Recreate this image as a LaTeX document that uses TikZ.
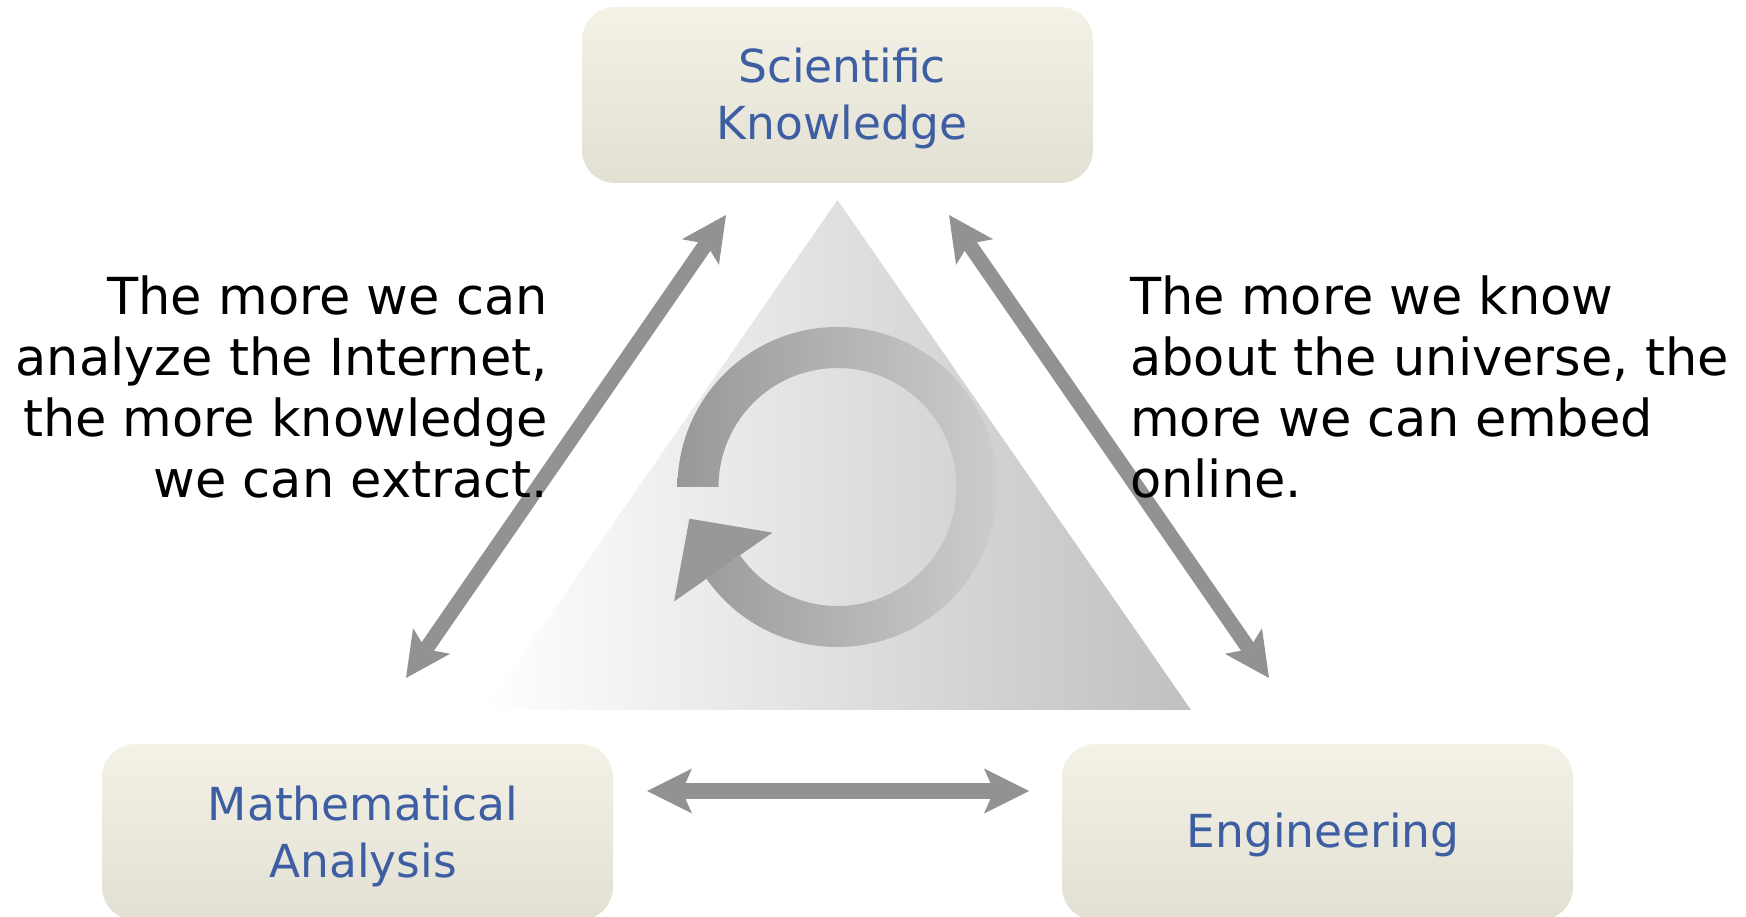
\documentclass[tikz,border=0pt]{standalone}
\usepackage{fontspec}
\setmainfont{DejaVu Sans}
\usetikzlibrary{arrows.meta}
\definecolor{boxtop}{RGB}{244,242,230}
\definecolor{boxbot}{RGB}{226,223,211}
\definecolor{labelblue}{RGB}{61,94,163}
\definecolor{arrowgray}{RGB}{146,146,146}
\definecolor{ringdark}{RGB}{152,152,152}
\definecolor{ringlight}{RGB}{205,205,205}
\definecolor{triright}{RGB}{192,192,192}
\tikzset{bigtip/.tip={Stealth[length=45pt,width=45pt,inset=10pt,line width=0pt]}}
\begin{document}
\begin{tikzpicture}[x=1pt,y=1pt,
  box/.style={rectangle, rounded corners=33pt, minimum width=511pt, minimum height=176pt,
    top color=boxtop, bottom color=boxbot, draw=none, inner sep=0pt},
  bluetext/.style={text=labelblue, font=\fontsize{45.5}{57}\selectfont, align=center,
    inner sep=0pt, anchor=north},
  blacktext/.style={text=black, font=\fontsize{51}{61}\selectfont, inner sep=0pt},
  dblarrow/.style={draw=arrowgray, line width=16pt, arrows={bigtip-bigtip}}
]
\useasboundingbox (0,0) rectangle (1746,916);

% background triangle
\shade[left color=white, right color=triright] (484,206) -- (837.5,716) -- (1191,206) -- cycle;

% circular arrow
\shade[left color=ringdark, right color=ringlight]
  (677.5,429) arc[start angle=180,end angle=-145,radius=160]
  -- (740.02,360.74) arc[start angle=-145,end angle=180,radius=119] -- cycle;
\fill[ringdark] (689.4,397.3) -- (674.08,314.57) -- (772.38,383.41) -- cycle;

% boxes
\node[box] (sk) at (837.5,821) {};
\node[box] (ma) at (357.5,84) {};
\node[box] (en) at (1317.5,84) {};

% arrow end points
\coordinate (lt) at (726,701);
\coordinate (lb) at (406,238);
\coordinate (rt) at (949,701);
\coordinate (rb) at (1269,238);
\coordinate (hl) at (647,125);
\coordinate (hr) at (1029,125);

\draw[dblarrow, line width=15pt] (lt) -- (lb);
\draw[dblarrow, line width=15pt] (rt) -- (rb);
\draw[dblarrow] (hl) -- (hr);

% labels
\node[bluetext] (skT) at (842,868) {Scientific\\Knowledge};
\node[bluetext] (maT) at (363,130) {Mathematical\\Analysis};
\node[bluetext] (enT) at (1323,103) {Engineering};

\node[blacktext, align=right, anchor=north east] (leftT) at (548,640)
  {The more we can\\analyze the Internet,\\the more knowledge\\we can extract.};
\node[blacktext, align=left, anchor=north west] (rightT) at (1130,640)
  {The more we know\\about the universe, the\\more we can embed\\online.};
\end{tikzpicture}
\end{document}
